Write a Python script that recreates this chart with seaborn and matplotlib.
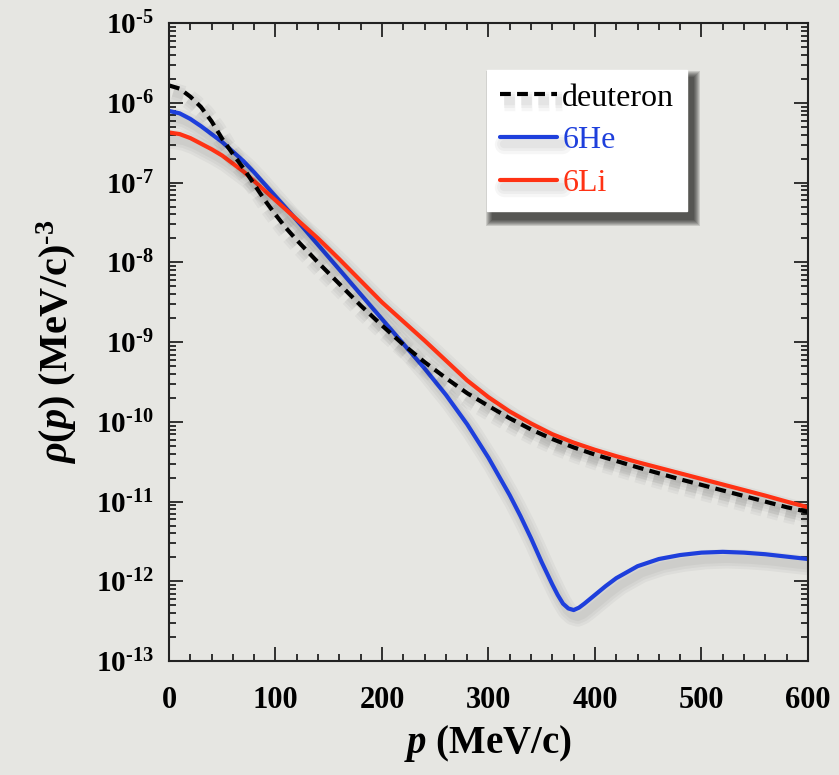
import numpy as np
import pandas as pd
import matplotlib
matplotlib.use("Agg")
import matplotlib.pyplot as plt
import matplotlib.patheffects as pe
from matplotlib.patches import Rectangle
from matplotlib.ticker import LogLocator, MultipleLocator, NullFormatter
import seaborn as sns

# momentum distributions, values (log10 of rho)
p_deut = [0, 10, 20, 30, 40, 50, 60, 70, 80, 90, 100, 110, 120, 140, 160, 180, 200,
          220, 240, 260, 280, 300, 320, 340, 360, 380, 400, 420, 440, 460, 480,
          500, 520, 540, 560, 580, 600]
log_deut = [-5.78, -5.82, -5.92, -6.05, -6.23, -6.45, -6.64, -6.82, -7.02, -7.22,
            -7.40, -7.57, -7.72, -8.00, -8.27, -8.54, -8.79, -9.03, -9.25, -9.45,
            -9.64, -9.80, -9.955, -10.095, -10.215, -10.32, -10.41, -10.49, -10.57,
            -10.645, -10.72, -10.79, -10.86, -10.93, -11.00, -11.07, -11.13]

p_he = [0, 10, 20, 30, 40, 50, 60, 70, 80, 90, 100, 120, 140, 160, 180, 200, 220,
        240, 260, 280, 300, 320, 330, 340, 350, 360, 365, 370, 375, 380, 385, 390,
        400, 410, 420, 440, 460, 480, 500, 520, 540, 560, 580, 600]
log_he = [-6.10, -6.13, -6.20, -6.29, -6.39, -6.49, -6.61, -6.73, -6.87, -7.02,
          -7.17, -7.47, -7.78, -8.09, -8.40, -8.71, -9.02, -9.33, -9.66, -10.03,
          -10.45, -10.92, -11.18, -11.46, -11.76, -12.04, -12.17, -12.28, -12.34,
          -12.36, -12.33, -12.28, -12.17, -12.06, -11.96, -11.81, -11.72, -11.67,
          -11.64, -11.63, -11.64, -11.66, -11.69, -11.72]

p_li = [0, 10, 20, 30, 40, 50, 60, 70, 80, 90, 100, 120, 140, 160, 180, 200, 220,
        240, 260, 280, 300, 320, 340, 360, 380, 400, 420, 440, 460, 480, 500, 520,
        540, 560, 580, 600]
log_li = [-6.37, -6.39, -6.44, -6.51, -6.58, -6.66, -6.76, -6.86, -6.98, -7.10,
          -7.22, -7.46, -7.70, -7.96, -8.23, -8.50, -8.74, -8.98, -9.23, -9.48,
          -9.69, -9.87, -10.02, -10.155, -10.26, -10.35, -10.43, -10.505, -10.575,
          -10.645, -10.715, -10.785, -10.855, -10.925, -11.00, -11.07]

y_ticks = [1e-13, 1e-12, 1e-11, 1e-10, 1e-9, 1e-8, 1e-7, 1e-6, 1e-5]
y_labels = [r"$10^{\text{-13}}$", r"$10^{\text{-12}}$", r"$10^{\text{-11}}$",
            r"$10^{\text{-10}}$", r"$10^{\text{-9}}$", r"$10^{\text{-8}}$",
            r"$10^{\text{-7}}$", r"$10^{\text{-6}}$", r"$10^{\text{-5}}$"]

df = pd.concat([
    pd.DataFrame({"p": p_deut, "rho": 10.0 ** np.array(log_deut), "nucleus": "deuteron"}),
    pd.DataFrame({"p": p_he, "rho": 10.0 ** np.array(log_he), "nucleus": "6He"}),
    pd.DataFrame({"p": p_li, "rho": 10.0 ** np.array(log_li), "nucleus": "6Li"}),
], ignore_index=True)

colors = {"deuteron": "black", "6He": "#1e3fdc", "6Li": "#ff3214"}
bg = "#e6e6e2"

sns.set_style("ticks")
plt.rcParams["font.family"] = ["Liberation Serif", "DejaVu Serif"]
plt.rcParams["mathtext.fontset"] = "custom"
plt.rcParams["mathtext.rm"] = "Liberation Serif:bold"
plt.rcParams["mathtext.bf"] = "Liberation Serif:bold"
plt.rcParams["mathtext.it"] = "Liberation Serif:italic:bold"
plt.rcParams["text.color"] = "black"
plt.rcParams["axes.labelcolor"] = "black"
plt.rcParams["xtick.color"] = "black"
plt.rcParams["ytick.color"] = "black"

fig = plt.figure(figsize=(8.39, 7.75), dpi=100, facecolor=bg)
ax = fig.add_axes([0.2014, 0.147, 0.7616, 0.823])
ax.set_facecolor(bg)

# soft shadow under the curves
line_shadow = [pe.SimpleLineShadow(offset=(3, -5), shadow_color="k", alpha=0.035, linewidth=w)
               for w in (14, 10, 6)] + [pe.Normal()]

for name in ["6He", "6Li", "deuteron"]:
    sub = df[df["nucleus"] == name]
    sns.lineplot(data=sub, x="p", y="rho", ax=ax, color=colors[name], lw=3.0,
                 label=name, linestyle=(0, (2.6, 1.5)) if name == "deuteron" else "-",
                 path_effects=line_shadow)

ax.set_yscale("log")
ax.set_xlim(0, 600)
ax.set_ylim(1e-13, 1e-5)
ax.set_yticks(y_ticks)
ax.set_yticklabels(y_labels)
ax.yaxis.set_minor_locator(LogLocator(base=10, subs=np.arange(2, 10), numticks=20))
ax.yaxis.set_minor_formatter(NullFormatter())
ax.xaxis.set_major_locator(MultipleLocator(100))
ax.xaxis.set_minor_locator(MultipleLocator(20))

ax.tick_params(which="both", direction="in", top=True, right=True, width=1.3,
               color="#222222", labelcolor="black")
ax.tick_params(which="major", length=10)
ax.tick_params(which="minor", length=5)
ax.tick_params(axis="x", which="major", pad=18, labelsize=22)
ax.tick_params(axis="y", which="major", pad=11, labelsize=21)
for lab in ax.get_xticklabels():
    lab.set_fontweight("bold")
for s in ax.spines.values():
    s.set_linewidth(1.5)
    s.set_color("#222222")

ax.set_xlabel(r"$p$ (MeV/c)", fontsize=28, fontweight="bold", labelpad=6, color="black")
ax.set_ylabel(r"$\rho(p)$ (MeV/c)$^{\text{-3}}$", fontsize=29, fontweight="bold",
              labelpad=12, color="black")

handles, labels = ax.get_legend_handles_labels()
order = [labels.index(k) for k in ["deuteron", "6He", "6Li"]]
leg = ax.legend([handles[i] for i in order], [labels[i] for i in order],
                loc="upper left", bbox_to_anchor=(0.498, 0.926), borderaxespad=0,
                fontsize=23, handlelength=1.8, handletextpad=0.15, labelspacing=0.42,
                borderpad=0.4, fancybox=False, framealpha=1, facecolor="white",
                edgecolor="white")
for txt, name in zip(leg.get_texts(), ["deuteron", "6He", "6Li"]):
    txt.set_color(colors[name])

# blurred drop shadow behind the legend box
fig.canvas.draw()
bb = leg.get_window_extent()
for i in range(7):
    grow = 7 - i
    ax.add_patch(Rectangle((bb.x0 + 6 - grow, bb.y0 - 8 - grow), bb.width + 2 * grow,
                           bb.height + 2 * grow, transform=None, facecolor="black",
                           edgecolor="none", alpha=0.13, zorder=4.9, clip_on=False))

fig.savefig("out.png", dpi=100, facecolor=bg)
